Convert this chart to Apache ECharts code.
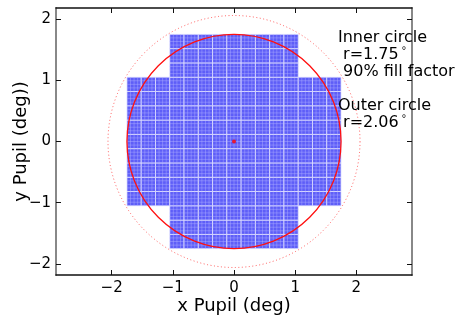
<!DOCTYPE html>
<html>
<head>
<meta charset="utf-8">
<script src="https://cdn.jsdelivr.net/npm/echarts@6/dist/echarts.min.js"></script>
<style>
html, body { margin: 0; padding: 0; background: #fff; }
#chart { width: 457px; height: 316px; }
</style>
</head>
<body>
<div id="chart"></div>
<script>
// focal plane chips, 15 rows of chips, each row from first to last column
const chipSize = 0.7 / 3;
const chipOrigin = -1.75;
const rowFirst = [3, 3, 3, 0, 0, 0, 0, 0, 0, 0, 0, 0, 3, 3, 3];
const rowLast = [11, 11, 11, 14, 14, 14, 14, 14, 14, 14, 14, 14, 11, 11, 11];
const innerR = 1.75;
const outerR = 2.06;
const center = [0, 0];
const xTicks = [-2, -1, 0, 1, 2];
const yTicks = [-2, -1, 0, 1, 2];

const chips = [];
for (let r = 0; r < rowFirst.length; r++) {
  for (let c = rowFirst[r]; c <= rowLast[r]; c++) {
    chips.push([chipOrigin + c * chipSize, chipOrigin + r * chipSize]);
  }
}

const font = 'DejaVu Sans';
const minus = v => String(v).replace('-', '\u2212');

function chipItem(params, api) {
  const x0 = api.value(0), y0 = api.value(1);
  const p0 = api.coord([x0, y0]);
  const p1 = api.coord([x0 + chipSize, y0 + chipSize]);
  const w = p1[0] - p0[0], h = p0[1] - p1[1];
  const children = [{
    type: 'rect',
    shape: { x: p0[0], y: p1[1], width: w, height: h },
    style: { fill: '#5e5ef8', stroke: 'rgba(230,230,255,0.75)', lineWidth: 1 }
  }];
  for (let i = 1; i < 4; i++) {
    const fx = p0[0] + w * i / 4, fy = p1[1] + h * i / 4;
    children.push({ type: 'line', shape: { x1: fx, y1: p1[1], x2: fx, y2: p0[1] },
      style: { stroke: 'rgba(175,175,255,0.45)', lineWidth: 1 } });
    children.push({ type: 'line', shape: { x1: p0[0], y1: fy, x2: p1[0], y2: fy },
      style: { stroke: 'rgba(175,175,255,0.45)', lineWidth: 1 } });
  }
  return { type: 'group', children: children };
}

function circleItem(style) {
  return function (params, api) {
    const c = api.coord([api.value(0), api.value(1)]);
    const r = api.size([api.value(2), 0])[0];
    return { type: 'circle', shape: { cx: c[0], cy: c[1], r: r }, style: style };
  };
}

const hLine = { onZero: false, lineStyle: { color: '#111', width: 1.5 } };
const vLine = { onZero: false, lineStyle: { color: '#888', width: 2 } };
const tick = { inside: true, length: 5, lineStyle: { color: '#111' } };

const chart = echarts.init(document.getElementById('chart'));
chart.setOption({
  animation: false,
  grid: { left: 56, right: 45, top: 8, bottom: 41, containLabel: false, outerBoundsMode: 'none' },
  xAxis: [
    {
      type: 'value', min: -2.91, max: 2.91,
      axisLine: hLine,
      axisTick: Object.assign({ customValues: xTicks }, tick),
      axisLabel: { customValues: xTicks, formatter: minus, fontFamily: font, fontSize: 15, color: '#000', margin: 6 },
      splitLine: { show: false },
      name: 'x Pupil (deg)', nameLocation: 'middle', nameGap: 22, nameMoveOverlap: false,
      nameTextStyle: { fontFamily: font, fontSize: 18, color: '#000' }
    },
    {
      type: 'value', position: 'top', min: -2.91, max: 2.91,
      axisLine: hLine,
      axisTick: Object.assign({ customValues: xTicks }, tick),
      axisLabel: { show: false }, splitLine: { show: false }
    }
  ],
  yAxis: [
    {
      type: 'value', min: -2.18, max: 2.18,
      axisLine: vLine,
      axisTick: Object.assign({ customValues: yTicks }, tick),
      axisLabel: { customValues: yTicks, formatter: minus, fontFamily: font, fontSize: 15, color: '#000', margin: 5 },
      splitLine: { show: false },
      name: 'y Pupil (deg))', nameLocation: 'middle', nameGap: 26, nameMoveOverlap: false,
      nameTextStyle: { fontFamily: font, fontSize: 18, color: '#000' }
    },
    {
      type: 'value', position: 'right', min: -2.18, max: 2.18,
      axisLine: vLine,
      axisTick: Object.assign({ customValues: yTicks }, tick),
      axisLabel: { show: false }, splitLine: { show: false }
    }
  ],
  series: [
    { type: 'custom', renderItem: chipItem, data: chips, encode: { x: 0, y: 1 }, z: 2 },
    {
      type: 'custom', data: [[center[0], center[1], innerR]], encode: { x: 0, y: 1 }, z: 3,
      renderItem: circleItem({ fill: 'none', stroke: '#ff1010', lineWidth: 1.3 })
    },
    {
      type: 'custom', data: [[center[0], center[1], outerR]], encode: { x: 0, y: 1 }, z: 3,
      renderItem: circleItem({ fill: 'none', stroke: 'rgba(255,40,40,0.75)', lineWidth: 1, lineDash: [1, 2.5] })
    },
    {
      type: 'scatter', data: [center], symbolSize: 4, z: 4,
      itemStyle: { color: '#ff0000' }
    }
  ],
  graphic: [
    {
      type: 'text', left: 338, top: 29, z: 10,
      style: {
        text: 'Inner circle\n r=1.75{d|°}\n 90% fill factor',
        fontFamily: font, fontSize: 16, lineHeight: 17, fill: '#000',
        rich: { d: { fontSize: 11, padding: [0, 0, 7, 3] } }
      }
    },
    {
      type: 'text', left: 338, top: 97, z: 10,
      style: {
        text: 'Outer circle\n r=2.06{d|°}',
        fontFamily: font, fontSize: 16, lineHeight: 17, fill: '#000',
        rich: { d: { fontSize: 11, padding: [0, 0, 7, 3] } }
      }
    }
  ]
});
</script>
</body>
</html>
